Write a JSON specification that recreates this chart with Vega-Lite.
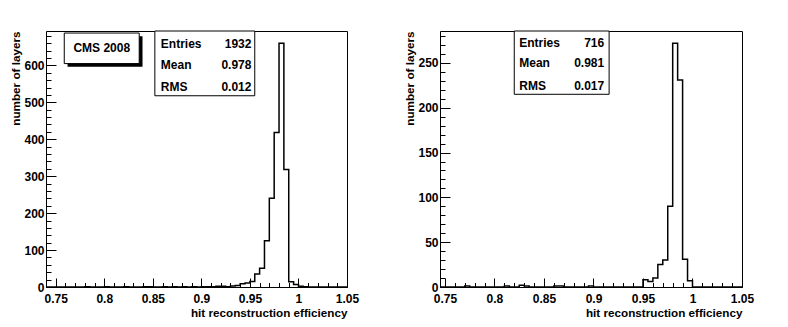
{
  "$schema": "https://vega.github.io/schema/vega-lite/v6.json",
  "padding": {"top": 30, "left": 10, "right": 5, "bottom": 5},
  "background": "white",
  "spacing": 93,
  "bounds": "flush",
  "config": {
    "view": {"stroke": "black", "strokeWidth": 1},
    "font": "Liberation Sans",
    "axis": {
      "grid": false,
      "domain": false,
      "tickColor": "black",
      "tickWidth": 1,
      "labelFont": "Liberation Sans",
      "labelFontWeight": "bold",
      "labelFontSize": 12,
      "labelColor": "black",
      "labelFlush": false,
      "titleFont": "Liberation Sans",
      "titleFontWeight": "bold",
      "titleFontSize": 11.7,
      "titleColor": "black"
    }
  },
  "datasets": {
    "leftHist": [
      {"x": 0.740, "n": 0}, {"x": 0.745, "n": 0}, {"x": 0.750, "n": 0}, {"x": 0.755, "n": 0},
      {"x": 0.760, "n": 0}, {"x": 0.765, "n": 0}, {"x": 0.770, "n": 0}, {"x": 0.775, "n": 0},
      {"x": 0.780, "n": 1}, {"x": 0.785, "n": 0}, {"x": 0.790, "n": 0}, {"x": 0.795, "n": 0},
      {"x": 0.800, "n": 1}, {"x": 0.805, "n": 0}, {"x": 0.810, "n": 0}, {"x": 0.815, "n": 0},
      {"x": 0.820, "n": 1}, {"x": 0.825, "n": 0}, {"x": 0.830, "n": 0}, {"x": 0.835, "n": 0},
      {"x": 0.840, "n": 1}, {"x": 0.845, "n": 1}, {"x": 0.850, "n": 0}, {"x": 0.855, "n": 0},
      {"x": 0.860, "n": 1}, {"x": 0.865, "n": 0}, {"x": 0.870, "n": 1}, {"x": 0.875, "n": 0},
      {"x": 0.880, "n": 1}, {"x": 0.885, "n": 0}, {"x": 0.890, "n": 1}, {"x": 0.895, "n": 0},
      {"x": 0.900, "n": 1}, {"x": 0.905, "n": 1}, {"x": 0.910, "n": 1}, {"x": 0.915, "n": 2},
      {"x": 0.920, "n": 2}, {"x": 0.925, "n": 1}, {"x": 0.930, "n": 3}, {"x": 0.935, "n": 4},
      {"x": 0.940, "n": 9}, {"x": 0.945, "n": 11}, {"x": 0.950, "n": 15}, {"x": 0.955, "n": 35},
      {"x": 0.960, "n": 51}, {"x": 0.965, "n": 125}, {"x": 0.970, "n": 240}, {"x": 0.975, "n": 418},
      {"x": 0.980, "n": 660}, {"x": 0.985, "n": 318}, {"x": 0.990, "n": 14}, {"x": 0.995, "n": 7},
      {"x": 1.000, "n": 2}, {"x": 1.005, "n": 1}, {"x": 1.010, "n": 0}, {"x": 1.015, "n": 0},
      {"x": 1.020, "n": 0}, {"x": 1.025, "n": 0}, {"x": 1.030, "n": 0}, {"x": 1.035, "n": 0},
      {"x": 1.040, "n": 0}, {"x": 1.045, "n": 0}, {"x": 1.050, "n": 0}
    ],
    "rightHist": [
      {"x": 0.745, "n": 0}, {"x": 0.750, "n": 0}, {"x": 0.755, "n": 0},
      {"x": 0.760, "n": 0}, {"x": 0.765, "n": 0}, {"x": 0.770, "n": 1}, {"x": 0.775, "n": 0},
      {"x": 0.780, "n": 0}, {"x": 0.785, "n": 0}, {"x": 0.790, "n": 0}, {"x": 0.795, "n": 0},
      {"x": 0.800, "n": 0}, {"x": 0.805, "n": 0}, {"x": 0.810, "n": 1}, {"x": 0.815, "n": 0},
      {"x": 0.820, "n": 0}, {"x": 0.825, "n": 2}, {"x": 0.830, "n": 1}, {"x": 0.835, "n": 0},
      {"x": 0.840, "n": 0}, {"x": 0.845, "n": 0}, {"x": 0.850, "n": 0}, {"x": 0.855, "n": 0},
      {"x": 0.860, "n": 1}, {"x": 0.865, "n": 1}, {"x": 0.870, "n": 0}, {"x": 0.875, "n": 0},
      {"x": 0.880, "n": 0}, {"x": 0.885, "n": 0}, {"x": 0.890, "n": 0}, {"x": 0.895, "n": 1},
      {"x": 0.900, "n": 0}, {"x": 0.905, "n": 0}, {"x": 0.910, "n": 0}, {"x": 0.915, "n": 0},
      {"x": 0.920, "n": 0}, {"x": 0.925, "n": 0}, {"x": 0.930, "n": 0}, {"x": 0.935, "n": 0},
      {"x": 0.940, "n": 0}, {"x": 0.945, "n": 0}, {"x": 0.950, "n": 8}, {"x": 0.955, "n": 6},
      {"x": 0.960, "n": 10}, {"x": 0.965, "n": 25}, {"x": 0.970, "n": 30}, {"x": 0.975, "n": 90},
      {"x": 0.980, "n": 272}, {"x": 0.985, "n": 231}, {"x": 0.990, "n": 31}, {"x": 0.995, "n": 7},
      {"x": 1.000, "n": 0}, {"x": 1.005, "n": 0}, {"x": 1.010, "n": 0}, {"x": 1.015, "n": 0},
      {"x": 1.020, "n": 0}, {"x": 1.025, "n": 0}, {"x": 1.030, "n": 0}, {"x": 1.035, "n": 0},
      {"x": 1.040, "n": 0}, {"x": 1.045, "n": 0}, {"x": 1.050, "n": 0}
    ],
    "leftShadow": [{"x1": 0.7622, "x2": 0.8394, "y1": 595.9, "y2": 678.6}],
    "leftBoxes": [
      {"x1": 0.7588, "x2": 0.836, "y1": 604.8, "y2": 687.5},
      {"x1": 0.8521, "x2": 0.955, "y1": 517.7, "y2": 693}
    ],
    "leftTitle": [{"text": "CMS 2008", "x": 0.7974, "y": 646}],
    "leftStats": [
      {"label": "Entries", "value": "1932", "lx": 0.8583, "vx": 0.9516, "y": 657},
      {"label": "Mean", "value": "0.978", "lx": 0.8583, "vx": 0.9516, "y": 600},
      {"label": "RMS", "value": "0.012", "lx": 0.8583, "vx": 0.9516, "y": 541.5}
    ],
    "rightBoxes": [{"x1": 0.820, "x2": 0.9158, "y1": 215, "y2": 285.6}],
    "rightStats": [
      {"label": "Entries", "value": "716", "lx": 0.825, "vx": 0.9108, "y": 271.9},
      {"label": "Mean", "value": "0.981", "lx": 0.825, "vx": 0.9108, "y": 249.6},
      {"label": "RMS", "value": "0.017", "lx": 0.825, "vx": 0.9108, "y": 224.2}
    ]
  },
  "hconcat": [
    {
      "width": 301,
      "height": 256,
      "resolve": {"axis": {"x": "independent", "y": "independent"}},
      "layer": [
        {
          "data": {"name": "leftHist"},
          "mark": {"type": "line", "interpolate": "step-after", "color": "black", "strokeWidth": 1.5},
          "encoding": {
            "x": {"field": "x", "type": "quantitative",
              "scale": {"domain": [0.74, 1.05], "nice": false, "zero": false},
              "axis": {"orient": "bottom", "values": [0.75, 0.8, 0.85, 0.9, 0.95, 1, 1.05], "format": "~g",
                "tickSize": -9, "labelPadding": 15, "title": "hit reconstruction efficiency",
                "titleAnchor": "end", "titlePadding": 3}},
            "y": {"field": "n", "type": "quantitative",
              "scale": {"domain": [0, 693], "nice": false, "zero": true},
              "axis": {"orient": "left", "values": [0, 100, 200, 300, 400, 500, 600],
                "tickSize": -10, "labelPadding": 12, "title": "number of layers",
                "titleAnchor": "end", "titlePadding": 2}}
          }
        },
        {
          "data": {"name": "leftShadow"},
          "mark": {"type": "rect", "color": "black"},
          "encoding": {
            "x": {"field": "x1", "type": "quantitative", "scale": {"domain": [0.74, 1.05], "nice": false, "zero": false}, "axis": null},
            "x2": {"field": "x2"},
            "y": {"field": "y1", "type": "quantitative", "scale": {"domain": [0, 693], "nice": false, "zero": true}, "axis": null},
            "y2": {"field": "y2"}
          }
        },
        {
          "data": {"name": "leftBoxes"},
          "mark": {"type": "rect", "fill": "white", "stroke": "black", "strokeWidth": 1},
          "encoding": {
            "x": {"field": "x1", "type": "quantitative",
              "scale": {"domain": [0.74, 1.05], "nice": false, "zero": false},
              "axis": {"orient": "bottom", "values": [0.74, 0.75, 0.76, 0.77, 0.78, 0.79, 0.8, 0.81, 0.82, 0.83, 0.84, 0.85, 0.86, 0.87, 0.88, 0.89, 0.9, 0.91, 0.92, 0.93, 0.94, 0.95, 0.96, 0.97, 0.98, 0.99, 1, 1.01, 1.02, 1.03, 1.04, 1.05],
                "tickSize": -4.5, "labels": false, "title": null}},
            "x2": {"field": "x2"},
            "y": {"field": "y1", "type": "quantitative",
              "scale": {"domain": [0, 693], "nice": false, "zero": true},
              "axis": {"orient": "left", "values": [0, 20, 40, 60, 80, 100, 120, 140, 160, 180, 200, 220, 240, 260, 280, 300, 320, 340, 360, 380, 400, 420, 440, 460, 480, 500, 520, 540, 560, 580, 600, 620, 640, 660, 680],
                "tickSize": -5, "labels": false, "title": null}},
            "y2": {"field": "y2"}
          }
        },
        {
          "data": {"name": "leftTitle"},
          "mark": {"type": "text", "align": "center", "baseline": "middle", "fontWeight": "bold", "fontSize": 12, "color": "black"},
          "encoding": {
            "x": {"field": "x", "type": "quantitative", "scale": {"domain": [0.74, 1.05], "nice": false, "zero": false}, "axis": null},
            "y": {"field": "y", "type": "quantitative", "scale": {"domain": [0, 693], "nice": false, "zero": true}, "axis": null},
            "text": {"field": "text"}
          }
        },
        {
          "data": {"name": "leftStats"},
          "mark": {"type": "text", "align": "left", "baseline": "middle", "fontWeight": "bold", "fontSize": 12, "color": "black"},
          "encoding": {
            "x": {"field": "lx", "type": "quantitative", "scale": {"domain": [0.74, 1.05], "nice": false, "zero": false}, "axis": null},
            "y": {"field": "y", "type": "quantitative", "scale": {"domain": [0, 693], "nice": false, "zero": true}, "axis": null},
            "text": {"field": "label"}
          }
        },
        {
          "data": {"name": "leftStats"},
          "mark": {"type": "text", "align": "right", "baseline": "middle", "fontWeight": "bold", "fontSize": 12, "color": "black"},
          "encoding": {
            "x": {"field": "vx", "type": "quantitative", "scale": {"domain": [0.74, 1.05], "nice": false, "zero": false}, "axis": null},
            "y": {"field": "y", "type": "quantitative", "scale": {"domain": [0, 693], "nice": false, "zero": true}, "axis": null},
            "text": {"field": "value"}
          }
        }
      ]
    },
    {
      "width": 302,
      "height": 256,
      "resolve": {"axis": {"x": "independent", "y": "independent"}},
      "layer": [
        {
          "data": {"name": "rightHist"},
          "mark": {"type": "line", "interpolate": "step-after", "color": "black", "strokeWidth": 1.5},
          "encoding": {
            "x": {"field": "x", "type": "quantitative",
              "scale": {"domain": [0.745, 1.05], "nice": false, "zero": false},
              "axis": {"orient": "bottom", "values": [0.75, 0.8, 0.85, 0.9, 0.95, 1, 1.05], "format": "~g",
                "tickSize": -9, "labelPadding": 15, "title": "hit reconstruction efficiency",
                "titleAnchor": "end", "titlePadding": 3}},
            "y": {"field": "n", "type": "quantitative",
              "scale": {"domain": [0, 285.6], "nice": false, "zero": true},
              "axis": {"orient": "left", "values": [0, 50, 100, 150, 200, 250],
                "tickSize": -10, "labelPadding": 12, "title": "number of layers",
                "titleAnchor": "end", "titlePadding": 2}}
          }
        },
        {
          "data": {"name": "rightBoxes"},
          "mark": {"type": "rect", "fill": "white", "stroke": "black", "strokeWidth": 1},
          "encoding": {
            "x": {"field": "x1", "type": "quantitative",
              "scale": {"domain": [0.745, 1.05], "nice": false, "zero": false},
              "axis": {"orient": "bottom", "values": [0.75, 0.76, 0.77, 0.78, 0.79, 0.8, 0.81, 0.82, 0.83, 0.84, 0.85, 0.86, 0.87, 0.88, 0.89, 0.9, 0.91, 0.92, 0.93, 0.94, 0.95, 0.96, 0.97, 0.98, 0.99, 1, 1.01, 1.02, 1.03, 1.04, 1.05],
                "tickSize": -4.5, "labels": false, "title": null}},
            "x2": {"field": "x2"},
            "y": {"field": "y1", "type": "quantitative",
              "scale": {"domain": [0, 285.6], "nice": false, "zero": true},
              "axis": {"orient": "left", "values": [0, 10, 20, 30, 40, 50, 60, 70, 80, 90, 100, 110, 120, 130, 140, 150, 160, 170, 180, 190, 200, 210, 220, 230, 240, 250, 260, 270, 280],
                "tickSize": -5, "labels": false, "title": null}},
            "y2": {"field": "y2"}
          }
        },
        {
          "data": {"name": "rightStats"},
          "mark": {"type": "text", "align": "left", "baseline": "middle", "fontWeight": "bold", "fontSize": 12, "color": "black"},
          "encoding": {
            "x": {"field": "lx", "type": "quantitative", "scale": {"domain": [0.745, 1.05], "nice": false, "zero": false}, "axis": null},
            "y": {"field": "y", "type": "quantitative", "scale": {"domain": [0, 285.6], "nice": false, "zero": true}, "axis": null},
            "text": {"field": "label"}
          }
        },
        {
          "data": {"name": "rightStats"},
          "mark": {"type": "text", "align": "right", "baseline": "middle", "fontWeight": "bold", "fontSize": 12, "color": "black"},
          "encoding": {
            "x": {"field": "vx", "type": "quantitative", "scale": {"domain": [0.745, 1.05], "nice": false, "zero": false}, "axis": null},
            "y": {"field": "y", "type": "quantitative", "scale": {"domain": [0, 285.6], "nice": false, "zero": true}, "axis": null},
            "text": {"field": "value"}
          }
        }
      ]
    }
  ]
}
